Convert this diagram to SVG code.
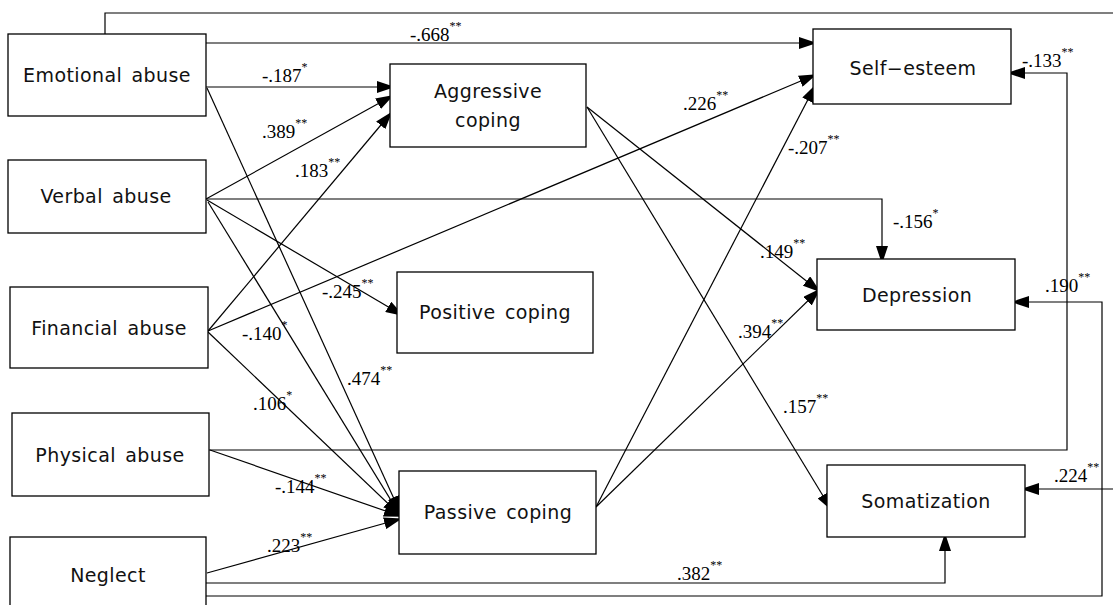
<svg xmlns="http://www.w3.org/2000/svg" width="1113" height="605" viewBox="0 0 1113 605">
<defs>
<marker id="ah" viewBox="0 0 18 12" markerWidth="18" markerHeight="12" refX="16" refY="6" orient="auto" markerUnits="userSpaceOnUse">
<path d="M0,0 L18,6 L0,12 z" fill="#000"/>
</marker>
<style>
.box{fill:#fff;stroke:#000;stroke-width:1.3}
.nt{font-family:"DejaVu Sans","Liberation Sans",sans-serif;font-size:19px;fill:#111;text-anchor:middle;word-spacing:3px;letter-spacing:0.4px}
.c{fill:none;stroke:#000;stroke-width:1.2;marker-end:url(#ah)}
.lb{font-family:"Liberation Serif","Times New Roman",serif;font-size:19px;fill:#000}
.s{font-size:12px}
</style>
</defs>
<rect width="1113" height="605" fill="#fff"/>
<g id="connectors">
<path class="c" d="M105,34 V13 H1118 V489 H1023"/>
<path class="c" d="M206,43 H815"/>
<path class="c" d="M206,87 H393"/>
<path class="c" d="M206,199 L392,96"/>
<path class="c" d="M208,331 L391,113"/>
<path class="c" d="M207,88 L400,512"/>
<path class="c" d="M208,202 L400,515"/>
<path class="c" d="M208,332 L399,514"/>
<path class="c" d="M210,450 L400,516"/>
<path class="c" d="M207,573 L400,519"/>
<path class="c" d="M207,200 L402,315"/>
<path class="c" d="M206,199 H882 V262"/>
<path class="c" d="M208,331 L815,75"/>
<path class="c" d="M587,107 L819,291"/>
<path class="c" d="M587,107 L831,509"/>
<path class="c" d="M596,507 L815,86"/>
<path class="c" d="M596,507 L819,290"/>
<path class="c" d="M209,450 H1067 V73 H1009"/>
<path class="c" d="M206,583 H945 V535"/>
<path class="c" d="M206,596 H1102 V302 H1013"/>
</g>
<g id="emotional"><rect class="box" x="8" y="34" width="198" height="82"/><text class="nt" x="107" y="82">Emotional abuse</text></g>
<g id="verbal"><rect class="box" x="8" y="160" width="198" height="73"/><text class="nt" x="106" y="203">Verbal abuse</text></g>
<g id="financial"><rect class="box" x="10" y="287" width="198" height="81"/><text class="nt" x="109" y="335">Financial abuse</text></g>
<g id="physical"><rect class="box" x="12" y="413" width="197" height="83"/><text class="nt" x="110" y="462">Physical abuse</text></g>
<g id="neglect"><rect class="box" x="10" y="537" width="196" height="80"/><text class="nt" x="108" y="582">Neglect</text></g>
<g id="aggressive"><rect class="box" x="390" y="64" width="196" height="83"/><text class="nt" x="488" y="98">Aggressive</text><text class="nt" x="488" y="127">coping</text></g>
<g id="positive"><rect class="box" x="397" y="272" width="196" height="81"/><text class="nt" x="495" y="319">Positive coping</text></g>
<g id="passive"><rect class="box" x="399" y="471" width="197" height="83"/><text class="nt" x="498" y="519">Passive coping</text></g>
<g id="selfesteem"><rect class="box" x="813" y="29" width="198" height="75"/><text class="nt" x="913" y="75">Self−esteem</text></g>
<g id="depression"><rect class="box" x="817" y="259" width="198" height="71"/><text class="nt" x="917" y="302">Depression</text></g>
<g id="somatization"><rect class="box" x="827" y="465" width="198" height="72"/><text class="nt" x="926" y="508">Somatization</text></g>
<g id="labels">
<text class="lb" x="410" y="41">-.668<tspan class="s" dy="-11">**</tspan></text>
<text class="lb" x="262" y="82">-.187<tspan class="s" dy="-11">*</tspan></text>
<text class="lb" x="262" y="138">.389<tspan class="s" dy="-11">**</tspan></text>
<text class="lb" x="295" y="177">.183<tspan class="s" dy="-11">**</tspan></text>
<text class="lb" x="683" y="110">.226<tspan class="s" dy="-11">**</tspan></text>
<text class="lb" x="788" y="154">-.207<tspan class="s" dy="-11">**</tspan></text>
<text class="lb" x="1022" y="67">-.133<tspan class="s" dy="-11">**</tspan></text>
<text class="lb" x="893" y="228">-.156<tspan class="s" dy="-11">*</tspan></text>
<text class="lb" x="760" y="258">.149<tspan class="s" dy="-11">**</tspan></text>
<text class="lb" x="322" y="298">-.245<tspan class="s" dy="-11">**</tspan></text>
<text class="lb" x="242" y="340">-.140<tspan class="s" dy="-11">*</tspan></text>
<text class="lb" x="347" y="385">.474<tspan class="s" dy="-11">**</tspan></text>
<text class="lb" x="738" y="338">.394<tspan class="s" dy="-11">**</tspan></text>
<text class="lb" x="1045" y="292">.190<tspan class="s" dy="-11">**</tspan></text>
<text class="lb" x="783" y="413">.157<tspan class="s" dy="-11">**</tspan></text>
<text class="lb" x="253" y="410">.106<tspan class="s" dy="-11">*</tspan></text>
<text class="lb" x="275" y="493">-.144<tspan class="s" dy="-11">**</tspan></text>
<text class="lb" x="267" y="552">.223<tspan class="s" dy="-11">**</tspan></text>
<text class="lb" x="677" y="580">.382<tspan class="s" dy="-11">**</tspan></text>
<text class="lb" x="1054" y="482">.224<tspan class="s" dy="-11">**</tspan></text>
</g>
</svg>
